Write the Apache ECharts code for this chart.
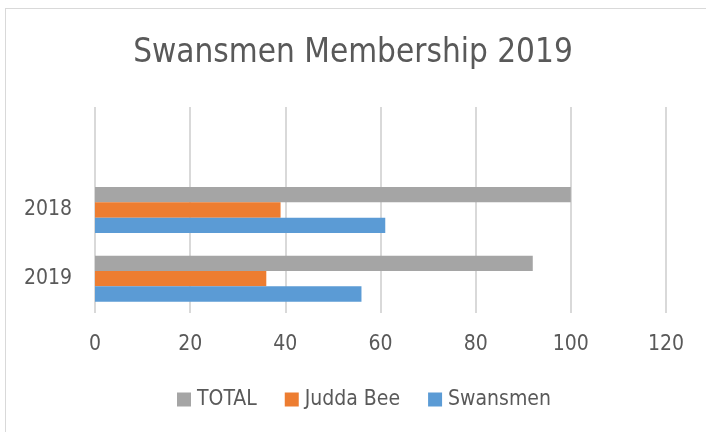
<!DOCTYPE html>
<html lang="en">
<head>
    <meta charset="UTF-8">
    <title>Swansmen Membership 2019</title>
    <script src="https://cdn.jsdelivr.net/npm/echarts@6.0.0/dist/echarts.min.js"></script>
    <style>
        html, body { margin: 0; padding: 0; background: #fff; overflow: hidden; }
        #frame {
            position: absolute; left: 5px; top: 8px;
            width: 760px; height: 480px;
            border: 1px solid #d9d9d9;
        }
        #chart { position: absolute; left: 0; top: 0; width: 706px; height: 432px; }
    </style>
</head>
<body>
<div id="frame"></div>
<div id="chart"></div>
<script>
// categories bottom -> top; the top slot is empty, as in the original sheet
const years = ['2019', '2018', ''];
const swansmen = [56, 61, '-'];
const juddaBee = [36, 39, '-'];
const total = [92, 100, '-'];
const xTicks = { min: 0, max: 120, interval: 20 };

const font = "'Liberation Sans Narrow', 'DejaVu Sans Condensed', 'Liberation Sans', sans-serif";
const textColor = '#595959';

const chart = echarts.init(document.getElementById('chart'));

chart.setOption({
    animation: false,
    textStyle: { fontFamily: font },
    title: {
        text: 'Swansmen Membership 2019',
        left: 'center',
        top: 32,
        textStyle: { fontSize: 33, fontWeight: 'normal', color: textColor, fontFamily: font }
    },
    legend: {
        data: ['TOTAL', 'Judda Bee', 'Swansmen'],
        left: 172,
        top: 384,
        icon: 'rect',
        itemWidth: 14,
        itemHeight: 14,
        itemGap: 28,
        textStyle: { fontSize: 21, color: textColor, fontFamily: font, padding: [0, 0, 0, 1] }
    },
    grid: { left: 95, right: 40, top: 107, bottom: 119 },
    xAxis: {
        type: 'value',
        min: xTicks.min,
        max: xTicks.max,
        interval: xTicks.interval,
        axisLine: { show: false },
        axisTick: { show: false },
        axisLabel: { fontSize: 21, color: textColor, margin: 21, fontFamily: font },
        splitLine: { lineStyle: { color: '#d9d9d9', width: 2 } }
    },
    yAxis: {
        type: 'category',
        data: years,
        axisLine: { show: false },
        axisTick: { show: false },
        axisLabel: { fontSize: 21, color: textColor, margin: 23, fontFamily: font }
    },
    series: [
        { name: 'TOTAL', type: 'bar', data: total, itemStyle: { color: '#A5A5A5' }, barGap: '0%', barCategoryGap: '33%' },
        { name: 'Judda Bee', type: 'bar', data: juddaBee, itemStyle: { color: '#ED7D31' }, barGap: '0%', barCategoryGap: '33%' },
        { name: 'Swansmen', type: 'bar', data: swansmen, itemStyle: { color: '#5B9BD5' }, barGap: '0%', barCategoryGap: '33%' }
    ]
});

window.onresize = function() {
    chart.resize();
};
</script>
</body>
</html>
